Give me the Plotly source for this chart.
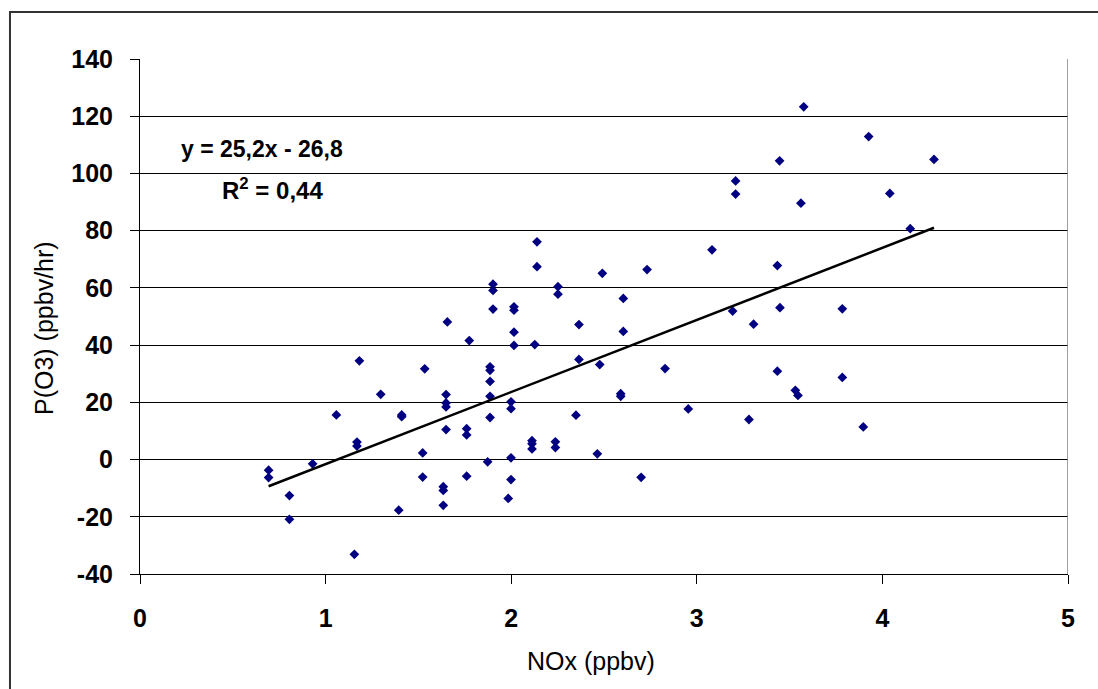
import plotly.graph_objects as go

# NOx (ppbv)
nox = [1.656, 1.182, 1.534, 1.297, 1.649, 1.649, 1.649, 1.058, 1.41, 1.41,
       1.649, 1.169, 1.169, 1.523, 0.93, 0.693, 0.693, 1.523, 1.634, 1.634,
       0.805, 1.634, 1.394, 0.805, 1.155,
       2.139, 2.139, 3.082, 2.491, 2.732, 1.902, 1.902, 2.252, 2.252, 2.604,
       1.902, 2.015, 2.015, 2.365, 3.193, 1.774, 2.015, 2.604, 2.015, 2.127,
       2.365, 2.477, 2.829, 1.886, 1.886, 1.886, 1.886, 2.59, 2.59, 1.999,
       1.999, 2.954, 3.281, 1.886, 2.349, 1.76, 1.76, 2.112, 2.112, 2.112,
       2.238, 2.238, 2.464, 1.999, 1.873, 1.76, 1.999, 2.7, 1.984,
       3.576, 3.926, 3.446, 4.278, 3.209, 3.209, 4.04, 3.561, 4.15, 3.434,
       3.448, 3.784, 3.306, 3.434, 3.784, 3.531, 3.545, 3.897]
# P(O3) (ppbv/hr)
po3 = [48.1, 34.5, 31.7, 22.8, 22.7, 19.8, 18.4, 15.6, 15.6, 15.0,
       10.5, 6.1, 4.7, 2.3, -1.5, -3.7, -6.3, -6.1, -9.5, -10.8,
       -12.6, -16.0, -17.7, -20.9, -33.1,
       76.1, 67.4, 73.3, 65.1, 66.4, 61.3, 59.1, 60.4, 57.8, 56.3,
       52.6, 53.4, 52.2, 47.2, 51.9, 41.6, 44.5, 44.8, 39.9, 40.2,
       35.0, 33.2, 31.8, 32.4, 31.2, 27.3, 22.1, 23.0, 22.1, 20.2,
       17.8, 17.7, 14.0, 14.7, 15.5, 10.8, 8.6, 6.6, 5.5, 3.7,
       6.2, 4.2, 2.0, 0.6, -0.8, -5.8, -7.0, -6.2, -13.6,
       123.3, 112.9, 104.4, 104.9, 97.4, 92.8, 93.0, 89.6, 80.7, 67.8,
       53.1, 52.7, 47.3, 30.9, 28.7, 24.2, 22.4, 11.4]

slope = 25.2
intercept = -26.8
eq_line1 = "y = 25,2x - 26,8"
eq_line2 = "R<sup>2</sup> = 0,44"
x_ticks = [0, 1, 2, 3, 4, 5]
x_tick_text = ["0", "1", "2", "3", "4", "5"]
y_ticks = [-40, -20, 0, 20, 40, 60, 80, 100, 120, 140]
y_tick_text = ["-40", "-20", "0", "20", "40", "60", "80", "100", "120", "140"]
x_label = "NOx (ppbv)"
y_label = "P(O3) (ppbv/hr)"

fit_x = [min(nox), max(nox)]
fit_y = [slope * v + intercept for v in fit_x]

FONT = "Arial, Liberation Sans, sans-serif"

fig = go.Figure()
fig.add_trace(go.Scatter(
    x=nox, y=po3, mode="markers",
    marker=dict(symbol="diamond", size=7.5, color="#000080", line=dict(width=0)),
    showlegend=False, hoverinfo="x+y"))
fig.add_trace(go.Scatter(
    x=fit_x, y=fit_y, mode="lines",
    line=dict(color="black", width=2.5),
    showlegend=False, hoverinfo="skip"))

fig.update_layout(
    width=1098, height=689, autosize=False,
    margin=dict(l=140, r=30, t=59, b=115, pad=0),
    paper_bgcolor="white", plot_bgcolor="white",
    font=dict(family=FONT, color="black"),
    xaxis=dict(range=[0, 5], tickvals=x_ticks, ticktext=x_tick_text,
               showgrid=False, zeroline=False,
               showline=True, linecolor="black", linewidth=1,
               ticks="outside", ticklen=9, tickcolor="black", tickwidth=1,
               ticklabelstandoff=13,
               tickfont=dict(family=FONT, size=25, color="black", weight="bold")),
    yaxis=dict(range=[-40, 140], tickvals=y_ticks, ticktext=y_tick_text,
               showgrid=True, gridcolor="black", gridwidth=1, zeroline=False,
               showline=True, linecolor="black", linewidth=1,
               ticks="outside", ticklen=9, tickcolor="black", tickwidth=1,
               ticklabelstandoff=12,
               tickfont=dict(family=FONT, size=25, color="black", weight="bold")),
    shapes=[
        dict(type="line", xref="x", yref="y", x0=5, x1=5, y0=-40, y1=140,
             line=dict(color="#808080", width=1.5)),
        dict(type="rect", xref="paper", yref="paper", x0=-0.1401, x1=1.1,
             y0=-0.4, y1=1.0913, line=dict(color="#333333", width=2)),
    ],
    annotations=[
        dict(text=eq_line1, xref="x", yref="y", x=0.657, y=108.4,
             xanchor="center", yanchor="middle", showarrow=False,
             font=dict(family=FONT, size=23, color="black", weight="bold")),
        dict(text=eq_line2, xref="x", yref="y", x=0.431, y=94.6,
             xanchor="left", yanchor="middle", showarrow=False,
             font=dict(family=FONT, size=24, color="black", weight="bold")),
        dict(text=x_label, xref="paper", yref="paper", x=0.486, y=-0.1689,
             xanchor="center", yanchor="middle", showarrow=False,
             font=dict(family=FONT, size=25, color="black")),
        dict(text=y_label, xref="paper", yref="paper", x=-0.1034, y=0.4777,
             xanchor="center", yanchor="middle", showarrow=False, textangle=-90,
             font=dict(family=FONT, size=25, color="black")),
    ],
)

fig.write_html("out.html", config={"displayModeBar": False},
               post_script="document.body.style.margin='0';")
